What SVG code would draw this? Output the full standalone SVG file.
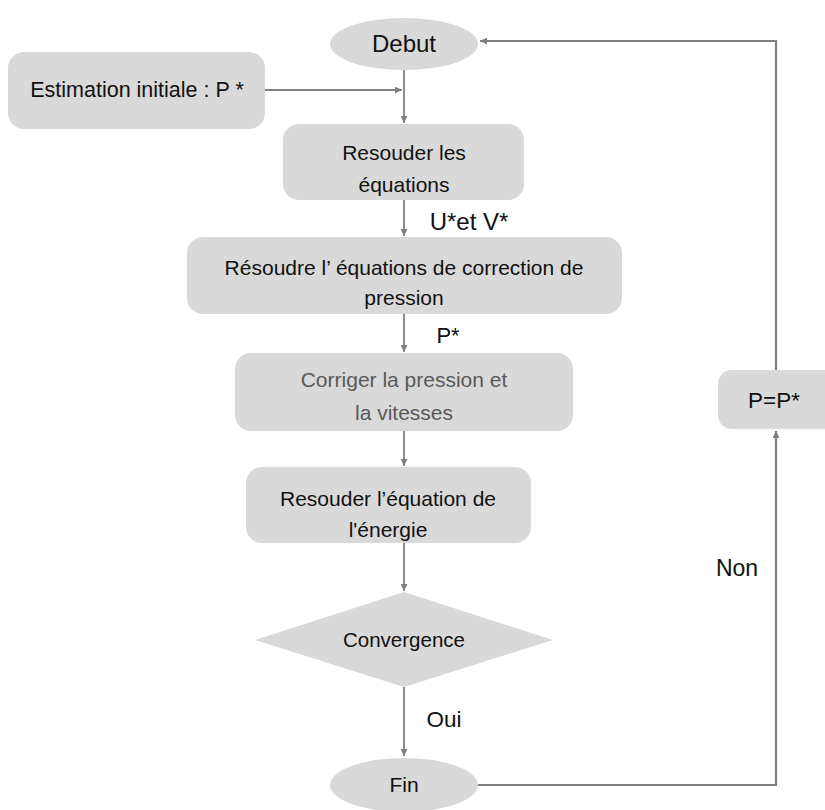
<svg xmlns="http://www.w3.org/2000/svg" width="825" height="810" viewBox="0 0 825 810">
  <style>
    .box { fill: #d9d9d9; }
    .lbl { font-family: "Liberation Sans", Arial, sans-serif; font-size: 21px; fill: #111; text-anchor: middle; }
    .soft { fill: #595959; }
    .edge { stroke: #808080; stroke-width: 2.2; fill: none; }
    .thin { stroke: #808080; stroke-width: 1.8; fill: none; }
  </style>
  <defs>
    <marker id="arr" viewBox="0 0 10 10" refX="10" refY="5" markerWidth="8" markerHeight="7" markerUnits="userSpaceOnUse" orient="auto">
      <path d="M0,0 L10,5 L0,10 z" fill="#808080"/>
    </marker>
  </defs>

  <rect width="825" height="810" fill="#ffffff"/>

  <!-- connectors -->
  <g id="connectors">
    <line class="edge" x1="265" y1="90" x2="402" y2="90" marker-end="url(#arr)"/>
    <line class="thin" x1="404" y1="70" x2="404" y2="123" marker-end="url(#arr)"/>
    <line class="thin" x1="404" y1="200" x2="404" y2="236" marker-end="url(#arr)"/>
    <line class="thin" x1="404" y1="314" x2="404" y2="352" marker-end="url(#arr)"/>
    <line class="thin" x1="404" y1="431" x2="404" y2="466" marker-end="url(#arr)"/>
    <line class="thin" x1="404" y1="543" x2="404" y2="591" marker-end="url(#arr)"/>
    <line class="thin" x1="404" y1="687" x2="404" y2="756" marker-end="url(#arr)"/>
    <polyline class="edge" points="478,785 776,785 776,431" marker-end="url(#arr)"/>
    <polyline class="edge" points="776,370 776,41 480,41" marker-end="url(#arr)"/>
    <text class="lbl" x="469" y="230" style="font-size:24px">U*et V*</text>
    <text class="lbl" x="448" y="343" style="font-size:22px">P*</text>
    <text class="lbl" x="444" y="727" style="font-size:22.5px">Oui</text>
    <text class="lbl" x="737" y="576" style="font-size:23px">Non</text>
  </g>

  <g id="debut">
    <ellipse class="box" cx="404" cy="44" rx="74" ry="26"/>
    <text class="lbl" x="404" y="52" style="font-size:24px">Debut</text>
  </g>

  <g id="estimation">
    <rect class="box" x="8" y="52" width="257" height="77" rx="16"/>
    <text class="lbl" x="137" y="97" style="font-size:21.5px">Estimation initiale : P *</text>
  </g>

  <g id="resouder-equations">
    <rect class="box" x="283" y="124" width="241" height="76" rx="16"/>
    <text class="lbl" x="404" y="160">Resouder les</text>
    <text class="lbl" x="404" y="192">équations</text>
  </g>

  <g id="correction-pression">
    <rect class="box" x="187" y="237" width="435" height="77" rx="16"/>
    <text class="lbl" x="404" y="275">Résoudre l’ équations de correction de</text>
    <text class="lbl" x="404" y="305">pression</text>
  </g>

  <g id="corriger">
    <rect class="box" x="235" y="353" width="338" height="78" rx="16"/>
    <text class="lbl soft" x="404" y="387">Corriger la pression et</text>
    <text class="lbl soft" x="404" y="420">la vitesses</text>
  </g>

  <g id="energie">
    <rect class="box" x="246" y="467" width="285" height="76" rx="16"/>
    <text class="lbl" x="388" y="506">Resouder l’équation de</text>
    <text class="lbl" x="388" y="537">l'énergie</text>
  </g>

  <g id="convergence">
    <polygon class="box" points="404,592 553,640 404,687 255,640"/>
    <text class="lbl" x="404" y="647" style="font-size:20.5px">Convergence</text>
  </g>

  <g id="fin">
    <ellipse class="box" cx="404" cy="785" rx="74" ry="27"/>
    <text class="lbl" x="404" y="792">Fin</text>
  </g>

  <g id="p-update">
    <rect class="box" x="718" y="370" width="120" height="59" rx="14"/>
    <text class="lbl" x="774" y="408" style="font-size:22.5px">P=P*</text>
  </g>
</svg>
